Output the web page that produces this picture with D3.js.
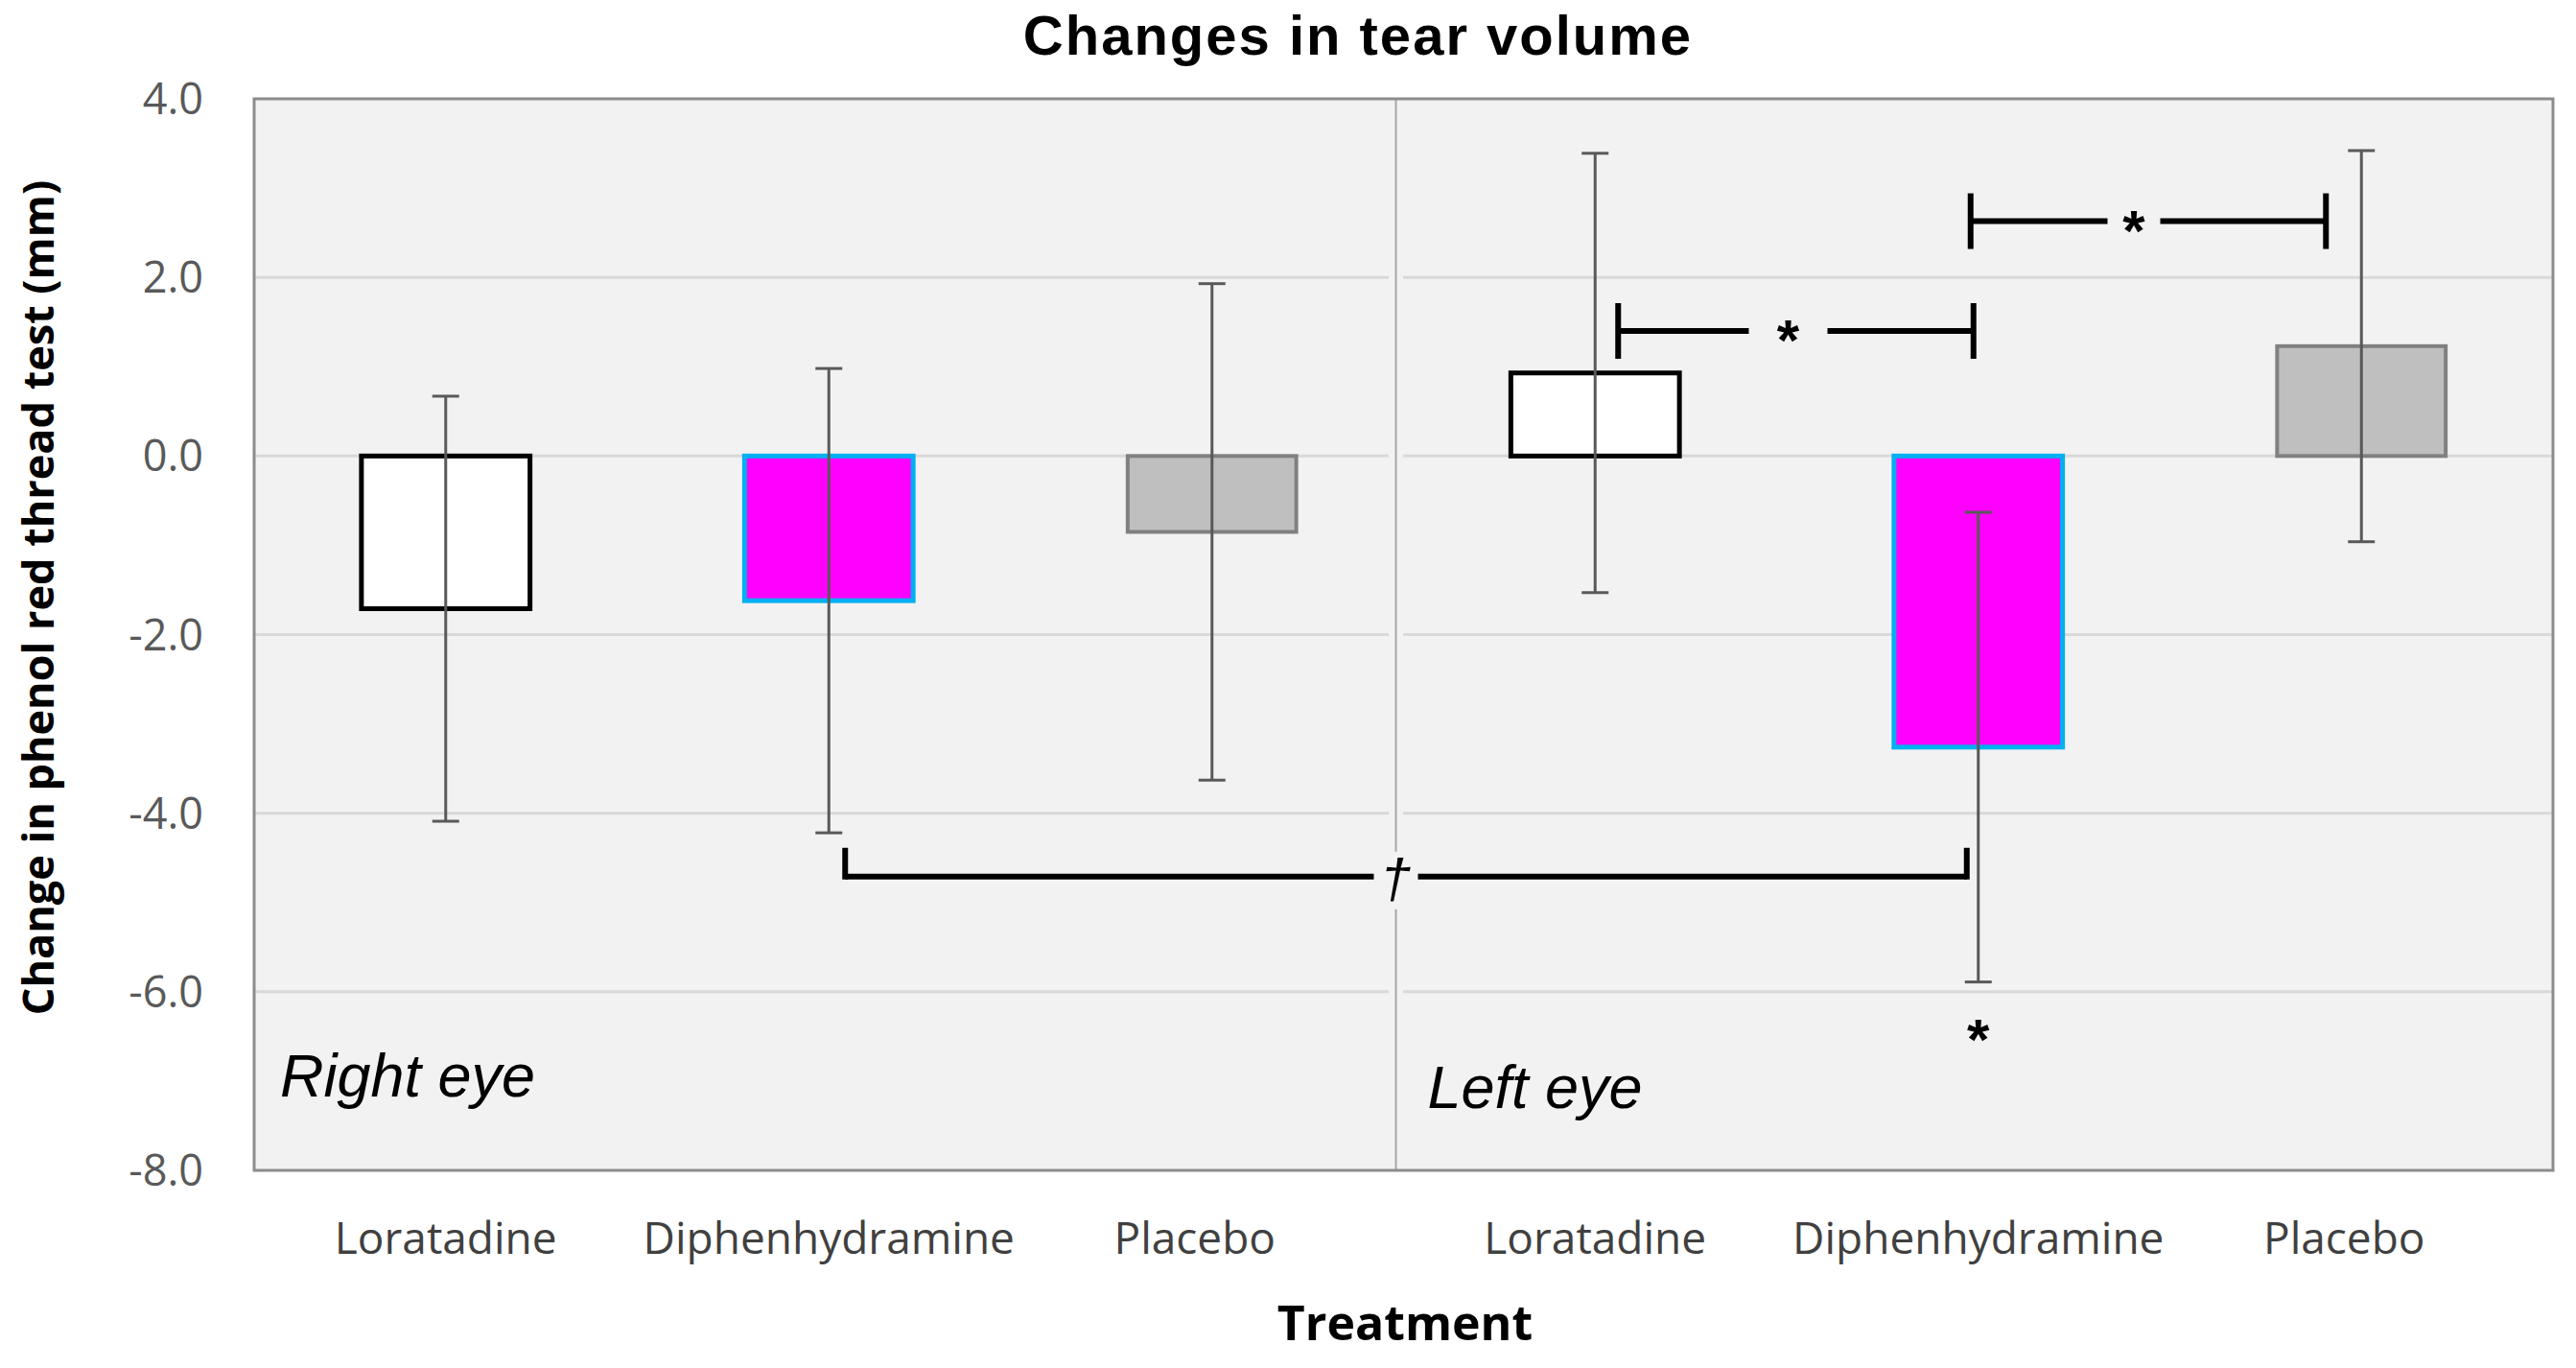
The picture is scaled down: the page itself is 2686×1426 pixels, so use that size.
<!DOCTYPE html>
<html><head><meta charset="utf-8">
<script src="https://cdn.jsdelivr.net/npm/d3@7"></script>
<style>html,body{margin:0;padding:0;background:#fff;}svg{display:block;}</style>
</head><body>
<svg id="chart" width="2686" height="1426"></svg>
<script>
// ---- data ----
const eyes = ["Right eye", "Left eye"];
const treatments = ["Loratadine", "Diphenhydramine", "Placebo"];
const means = [-1.71, -1.62, -0.85, 0.93, -3.26, 1.23];
const sds   = [2.38, 2.60, 2.78, 2.46, 2.63, 2.19];
const yTicks = [4.0, 2.0, 0.0, -2.0, -4.0, -6.0, -8.0];
const sigPairs = [
  {from: 3, to: 4, y: 1.40, label: "*"},
  {from: 4, to: 5, y: 2.63, label: "*"},
  {from: 1, to: 4, y: -4.71, label: "\u2020"}
];
const sigSingle = [{bar: 4, y: -6.43, label: "*"}];

// ---- layout ----
const W = 2686, H = 1426;
const L = 265, R = 2662, T = 103, B = 1220;
const svg = d3.select("#chart");

const ids = d3.range(eyes.length * treatments.length);
const rows = ids.map(i => ({
  id: i, eye: eyes[Math.floor(i / treatments.length)],
  treat: treatments[i % treatments.length], mean: means[i], sd: sds[i]
}));

const x = d3.scaleBand().domain(ids).range([L, R]).paddingInner(0).paddingOuter(0);
const y = d3.scaleLinear().domain([-8, 4]).range([B, T]);
const cx = i => x(i) + x.bandwidth() / 2;
const barW = x.bandwidth() * 0.44;

const fill = ["#ffffff", "#ff00ff", "#bfbfbf"];
const stroke = ["#000000", "#00b0f0", "#808080"];
const strokeW = [5, 5, 4];
const bg = "#f2f2f2";
const fmt = v => d3.format(".1f")(v).replace("\u2212", "-");
const starFont = "Liberation Sans, Arial, sans-serif";

// background
svg.append("rect").attr("x", L).attr("y", T).attr("width", R - L).attr("height", B - T).attr("fill", bg);

// gridlines
svg.append("g").selectAll("line").data(yTicks.filter(v => v < 4 && v > -8)).join("line")
  .attr("x1", L).attr("x2", R).attr("y1", d => y(d)).attr("y2", d => y(d))
  .attr("stroke", "#d9d9d9").attr("stroke-width", 3);

// divider between eyes
const divX = x(3) - 8;
svg.append("line").attr("x1", divX).attr("x2", divX).attr("y1", T).attr("y2", B)
  .attr("stroke", bg).attr("stroke-width", 15);
svg.append("line").attr("x1", divX).attr("x2", divX).attr("y1", T).attr("y2", B)
  .attr("stroke", "#a6a6a6").attr("stroke-width", 2);

// bars
svg.append("g").selectAll("rect").data(rows).join("rect")
  .attr("x", d => cx(d.id) - barW / 2)
  .attr("width", barW)
  .attr("y", d => y(Math.max(0, d.mean)))
  .attr("height", d => Math.abs(y(d.mean) - y(0)))
  .attr("fill", d => fill[d.id % 3])
  .attr("stroke", d => stroke[d.id % 3])
  .attr("stroke-width", d => strokeW[d.id % 3]);

// error bars
const eg = svg.append("g").attr("stroke", "#595959").attr("stroke-width", 3);
const capW = 28;
rows.forEach(d => {
  const hi = y(d.mean + d.sd), lo = y(d.mean - d.sd), c = cx(d.id);
  eg.append("line").attr("x1", c).attr("x2", c).attr("y1", hi).attr("y2", lo);
  eg.append("line").attr("x1", c - capW / 2).attr("x2", c + capW / 2).attr("y1", hi).attr("y2", hi);
  eg.append("line").attr("x1", c - capW / 2).attr("x2", c + capW / 2).attr("y1", lo).attr("y2", lo);
});

// significance brackets
const bracketStyle = [
  {dx1: 24, dx2: -5, tick: "both", gap: 82, starDx: -8},
  {dx1: -8, dx2: -37, tick: "both", gap: 55, starDx: -15},
  {dx1: 17, dx2: -12, tick: "up", gap: 46, starDx: 0}
];
const bg2 = svg.append("g");
sigPairs.forEach((p, k) => {
  const s = bracketStyle[k];
  const x1 = cx(p.from) + s.dx1, x2 = cx(p.to) + s.dx2, yy = y(p.y);
  const mid = (k === 2) ? divX : (x1 + x2) / 2 + s.starDx;
  const line = (a, b, c, d2) => bg2.append("line").attr("x1", a).attr("x2", b).attr("y1", c).attr("y2", d2)
    .attr("stroke", "#000").attr("stroke-width", 6).attr("stroke-linecap", "butt");
  line(x1, mid - s.gap / 2, yy, yy);
  line(mid + s.gap / 2, x2, yy, yy);
  if (s.tick === "both") {
    line(x1, x1, yy - 29, yy + 29);
    line(x2, x2, yy - 29, yy + 29);
  } else {
    line(x1, x1, yy - 30, yy + 3);
    line(x2, x2, yy - 30, yy + 3);
  }
  if (p.label === "*") {
    bg2.append("text").attr("x", mid).attr("y", yy + 30).attr("text-anchor", "middle")
      .attr("font-family", starFont).attr("font-weight", "bold").attr("font-size", 60)
      .attr("fill", "#000").text(p.label);
  } else {
    bg2.append("rect").attr("x", mid - 12).attr("y", yy - 26).attr("width", 24).attr("height", 60).attr("fill", bg);
    bg2.append("text").attr("x", mid).attr("y", yy + 22).attr("text-anchor", "middle")
      .attr("font-family", starFont).attr("font-style", "italic")
      .attr("font-size", 58).attr("fill", "#000").text(p.label);
  }
});
sigSingle.forEach(p => {
  svg.append("text").attr("x", cx(p.bar)).attr("y", y(p.y) + 30).attr("text-anchor", "middle")
    .attr("font-family", starFont).attr("font-weight", "bold").attr("font-size", 60)
    .attr("fill", "#000").text(p.label);
});

// eye labels
const eyeLabelX = [L + 27, divX + 33];
const eyeLabelY = [1143, 1155];
eyes.forEach((e, i) => {
  svg.append("text").attr("x", eyeLabelX[i]).attr("y", eyeLabelY[i])
    .attr("font-family", "Liberation Sans, Arial, sans-serif").attr("font-style", "italic")
    .attr("font-size", 63).attr("fill", "#000").text(e);
});

// plot border
svg.append("rect").attr("x", L).attr("y", T).attr("width", R - L).attr("height", B - T)
  .attr("fill", "none").attr("stroke", "#8c8c8c").attr("stroke-width", 3);

// y axis tick labels
svg.append("g").selectAll("text").data(yTicks).join("text")
  .attr("x", 212).attr("y", d => y(d) + 16).attr("text-anchor", "end")
  .attr("font-family", "Open Sans, sans-serif").attr("font-size", 45).attr("fill", "#595959")
  .text(d => fmt(d));

// x axis labels
const labelShift = t => (t === "Placebo" ? -18 : 0);
svg.append("g").selectAll("text").data(rows).join("text")
  .attr("x", d => cx(d.id) + labelShift(d.treat)).attr("y", 1307).attr("text-anchor", "middle")
  .attr("font-family", "Open Sans, sans-serif").attr("font-size", 46).attr("fill", "#404040")
  .text(d => d.treat);

// titles
svg.append("text").attr("x", 1416).attr("y", 57).attr("text-anchor", "middle")
  .attr("font-family", "Liberation Sans, Arial, sans-serif").attr("font-weight", "bold")
  .attr("font-size", 58).attr("letter-spacing", 2).attr("fill", "#000").text("Changes in tear volume");
svg.append("text").attr("x", 1465).attr("y", 1397).attr("text-anchor", "middle")
  .attr("font-family", "Open Sans, sans-serif").attr("font-weight", "bold")
  .attr("font-size", 50).attr("fill", "#000").text("Treatment");
svg.append("text").attr("transform", "translate(56,623) rotate(-90)").attr("text-anchor", "middle")
  .attr("font-family", "Open Sans, sans-serif").attr("font-weight", "bold")
  .attr("font-size", 45).attr("fill", "#000").text("Change in phenol red thread test (mm)");
</script>
</body></html>
